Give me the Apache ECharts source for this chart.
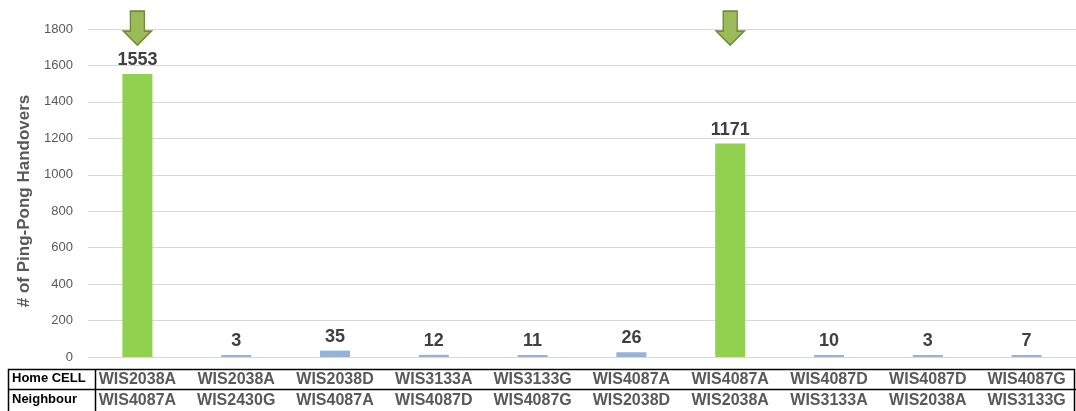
<!DOCTYPE html>
<html>
<head>
<meta charset="utf-8">
<script src="https://cdn.jsdelivr.net/npm/echarts@6/dist/echarts.min.js"></script>
<style>
  html, body { margin: 0; padding: 0; background: #fff; }
  #main { width: 1076px; height: 411px; }
</style>
</head>
<body>
<div id="main"></div>
<script>
// cell pairs shown in the table under the chart
var homeCells = ['WIS2038A', 'WIS2038A', 'WIS2038D', 'WIS3133A', 'WIS3133G', 'WIS4087A', 'WIS4087A', 'WIS4087D', 'WIS4087D', 'WIS4087G'];
var neighbours = ['WIS4087A', 'WIS2430G', 'WIS4087A', 'WIS4087D', 'WIS4087G', 'WIS2038D', 'WIS2038A', 'WIS3133A', 'WIS2038A', 'WIS3133G'];
var handovers = [1553, 3, 35, 12, 11, 26, 1171, 10, 3, 7];
// arrows point at the two worst pairs
var arrowMarks = [1805, null, null, null, null, null, 1805, null, null, null];
var yTicks = [0, 200, 400, 600, 800, 1000, 1200, 1400, 1600, 1800];

var categories = homeCells.map(function (h, i) { return h + '|' + neighbours[i]; });

var myChart = echarts.init(document.getElementById('main'));
myChart.setOption({
  animation: false,
  backgroundColor: '#fff',
  grid: { left: 88, right: -6, top: 29, bottom: 54 },
  xAxis: {
    type: 'category',
    data: categories,
    axisLine: { lineStyle: { color: '#d9d9d9' } },
    axisTick: { show: false },
    axisLabel: {
      interval: 0,
      margin: 12,
      formatter: function (v) { return v.split('|').join('\n'); },
      fontFamily: 'Liberation Sans',
      fontWeight: 'bold',
      fontSize: 16,
      lineHeight: 21,
      color: '#595959'
    }
  },
  yAxis: {
    type: 'value',
    min: yTicks[0],
    max: yTicks[yTicks.length - 1],
    interval: 200,
    name: '# of Ping-Pong Handovers',
    nameLocation: 'middle',
    nameGap: 54,
    nameTextStyle: {
      fontFamily: 'Liberation Sans',
      fontWeight: 'bold',
      fontSize: 17,
      color: '#595959',
      padding: [0, 16, 0, 0]
    },
    axisLine: { show: false },
    axisTick: { show: false },
    axisLabel: {
      margin: 15,
      formatter: function (v) { return String(v); },
      fontFamily: 'Liberation Sans',
      fontSize: 13,
      color: '#595959'
    },
    splitLine: { lineStyle: { color: '#d9d9d9' } }
  },
  series: [{
    type: 'bar',
    barWidth: 30,
    barMinHeight: 2,
    data: handovers.map(function (v) {
      return { value: v, itemStyle: { color: v > 1000 ? '#92d050' : '#95b3d7' } };
    }),
    label: {
      show: true,
      position: 'top',
      distance: 5,
      fontFamily: 'Liberation Sans',
      fontWeight: 'bold',
      fontSize: 18,
      color: '#404040'
    }
  }, {
    type: 'scatter',
    clip: false,
    symbol: 'path://M7,0 L21,0 L21,20 L28,20 L14,34 L0,20 L7,20 Z',
    symbolSize: [28, 34],
    itemStyle: { color: '#9bbb59', borderColor: '#71893f', borderWidth: 1.5, opacity: 1 },
    data: arrowMarks
  }],
  graphic: [
    { type: 'rect', shape: { x: 8.5, y: 369.5, width: 1066, height: 50 }, style: { fill: 'none', stroke: '#000', lineWidth: 1.5 } },
    { type: 'line', shape: { x1: 8, y1: 389.5, x2: 1076, y2: 389.5 }, style: { stroke: '#000', lineWidth: 1.5 } },
    { type: 'line', shape: { x1: 95.5, y1: 369, x2: 95.5, y2: 411 }, style: { stroke: '#000', lineWidth: 1.5 } },
    { type: 'text', left: 12, top: 372, style: { text: 'Home CELL', font: 'bold 13px "Liberation Sans"', fill: '#000' } },
    { type: 'text', left: 12, top: 393, style: { text: 'Neighbour', font: 'bold 13px "Liberation Sans"', fill: '#000' } }
  ]
});
</script>
</body>
</html>
